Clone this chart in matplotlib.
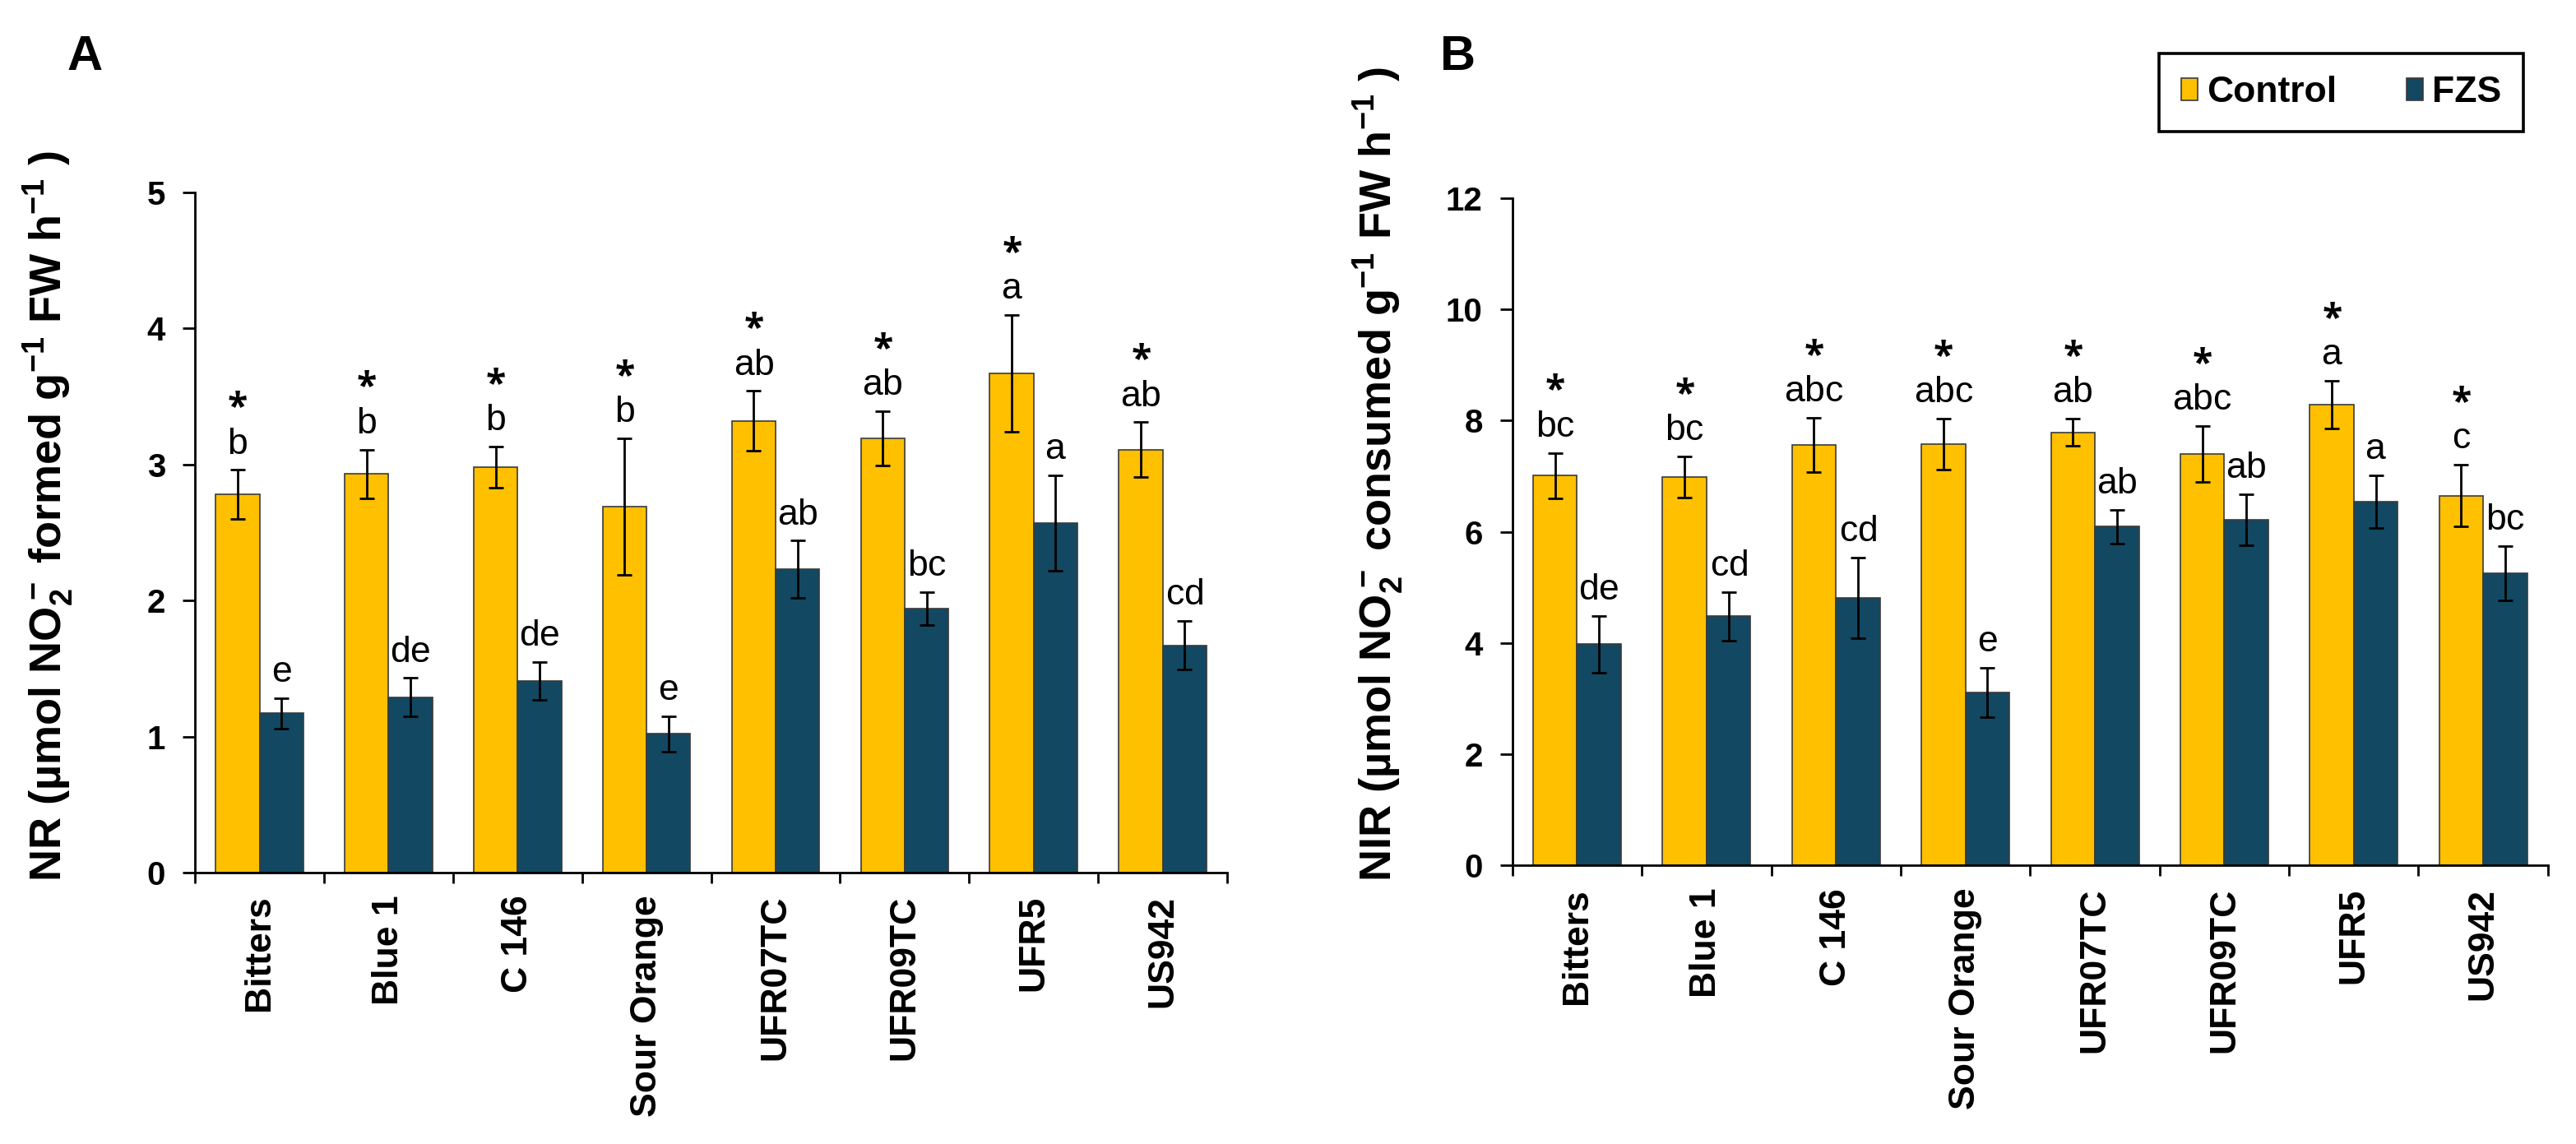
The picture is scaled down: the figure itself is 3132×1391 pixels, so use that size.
import numpy as np
import matplotlib
matplotlib.use('Agg')
import matplotlib.pyplot as plt
from matplotlib.patches import Patch

# 台木の名前
cultivars = ['Bitters', 'Blue 1', 'C 146', 'Sour Orange', 'UFR07TC', 'UFR09TC', 'UFR5', 'US942']

# A: NR
nr_ctrl = [2.78, 2.93, 2.98, 2.69, 3.32, 3.19, 3.67, 3.11]
nr_ctrl_err = [0.18, 0.18, 0.15, 0.50, 0.22, 0.20, 0.43, 0.20]
nr_fzs = [1.17, 1.29, 1.41, 1.02, 2.23, 1.94, 2.57, 1.67]
nr_fzs_err = [0.11, 0.14, 0.14, 0.13, 0.21, 0.12, 0.35, 0.18]
nr_ctrl_let = ['b', 'b', 'b', 'b', 'ab', 'ab', 'a', 'ab']
nr_fzs_let = ['e', 'de', 'de', 'e', 'ab', 'bc', 'a', 'cd']

# B: NIR
nir_ctrl = [7.01, 6.99, 7.56, 7.58, 7.79, 7.40, 8.29, 6.65]
nir_ctrl_err = [0.41, 0.37, 0.49, 0.46, 0.25, 0.50, 0.43, 0.56]
nir_fzs = [3.98, 4.48, 4.81, 3.11, 6.09, 6.21, 6.54, 5.25]
nir_fzs_err = [0.51, 0.44, 0.72, 0.44, 0.30, 0.46, 0.47, 0.49]
nir_ctrl_let = ['bc', 'bc', 'abc', 'abc', 'ab', 'abc', 'a', 'c']
nir_fzs_let = ['de', 'cd', 'cd', 'e', 'ab', 'ab', 'a', 'bc']

c_ctrl = '#FFC000'
c_fzs = '#134862'

plt.rcParams['font.family'] = ['Liberation Sans', 'DejaVu Sans']
plt.rcParams['mathtext.fontset'] = 'custom'
plt.rcParams['mathtext.rm'] = 'Liberation Sans:bold'
plt.rcParams['mathtext.it'] = 'Liberation Sans:bold'
plt.rcParams['mathtext.bf'] = 'Open Sans:bold'     # 星印用
plt.rcParams['mathtext.sf'] = 'Liberation Sans'    # 文字ラベル用（細字）

fig = plt.figure(figsize=(15.66, 6.955), dpi=200)


def draw_panel(rect, ctrl, ctrl_err, fzs, fzs_err, ctrl_let, fzs_let,
               ymax, ystep, ylabel, label_xy):
    ax = fig.add_axes(rect)
    x = np.arange(len(cultivars))
    w = 0.34
    ax.bar(x - w / 2, ctrl, w, color=c_ctrl, edgecolor='#3a3a3a', linewidth=0.6, zorder=2)
    ax.bar(x + w / 2, fzs, w, color=c_fzs, edgecolor='#3a3a3a', linewidth=0.6, zorder=2)
    ek = dict(fmt='none', ecolor='black', elinewidth=1.0, capsize=3.2, capthick=1.0, zorder=3)
    ax.errorbar(x - w / 2, ctrl, yerr=ctrl_err, **ek)
    ax.errorbar(x + w / 2, fzs, yerr=fzs_err, **ek)

    # 有意差の文字と星印（星印は文字と同じテキストの1行目）
    for i in range(len(cultivars)):
        top = ctrl[i] + ctrl_err[i]
        s = r'$\mathbf{*}$' + '\n' + r'$\mathsf{%s}$' % ctrl_let[i]
        ax.annotate(s, (x[i] - w / 2, top), xytext=(0, 3.9), textcoords='offset points',
                    ha='center', va='bottom', ma='center', fontsize=16, linespacing=1.1)
        top2 = fzs[i] + fzs_err[i]
        ax.annotate(r'$\mathsf{%s}$' % fzs_let[i], (x[i] + w / 2, top2), xytext=(0, 3.9),
                    textcoords='offset points', ha='center', va='bottom', fontsize=16)

    ax.set_xlim(-0.5, len(cultivars) - 0.5)
    ax.set_ylim(0, ymax)
    yt = np.arange(0, ymax + 0.01, ystep)
    ax.set_yticks(yt)
    ax.set_yticklabels([str(int(v)) for v in yt], fontsize=14.5, fontweight='bold')
    ax.set_xticks(np.arange(-0.5, len(cultivars)), minor=False)
    ax.set_xticklabels([])
    ax.set_xticks(x, minor=True)
    ax.set_xticklabels(cultivars, minor=True, rotation=90, fontsize=16, fontweight='bold', va='top')
    ax.tick_params(axis='x', which='major', direction='out', length=4.8, width=1.0)
    ax.tick_params(axis='x', which='minor', length=0, pad=10)
    ax.tick_params(axis='y', direction='out', length=5.5, width=1.0, pad=7.5)
    for s in ['top', 'right']:
        ax.spines[s].set_visible(False)
    for s in ['left', 'bottom']:
        ax.spines[s].set_linewidth(1.0)
    ax.set_ylabel(ylabel, fontsize=19.5, fontweight='bold')
    ax.yaxis.set_label_coords(*label_xy)
    return ax


draw_panel([0.0757, 0.2373, 0.4007, 0.5945], nr_ctrl, nr_ctrl_err, nr_fzs, nr_fzs_err,
           nr_ctrl_let, nr_fzs_let, 5, 1,
           r'NR (µmol NO$_2^-$ formed g$^{-1}$ FW h$^{-1}$ )', (-0.116, 0.524))
draw_panel([0.5871, 0.2437, 0.4020, 0.5830], nir_ctrl, nir_ctrl_err, nir_fzs, nir_fzs_err,
           nir_ctrl_let, nir_fzs_let, 12, 2,
           r'NIR (µmol NO$_2^-$ consumed g$^{-1}$ FW h$^{-1}$ )', (-0.103, 0.587))

fig.text(0.0329, 0.9497, 'A', fontsize=21.5, fontweight='bold', ha='center', va='center')
fig.text(0.5658, 0.9497, 'B', fontsize=21.5, fontweight='bold', ha='center', va='center')

handles = [Patch(facecolor=c_ctrl, edgecolor='#3a3a3a', linewidth=0.6, label='Control'),
           Patch(facecolor=c_fzs, edgecolor='#3a3a3a', linewidth=0.6, label='FZS')]
leg = fig.legend(handles=handles, loc='upper right', bbox_to_anchor=(0.9795, 0.953), ncol=2,
                 fancybox=False, edgecolor='black', framealpha=1,
                 prop={'weight': 'bold', 'size': 16}, handlelength=0.45, handleheight=0.55,
                 handletextpad=0.25, columnspacing=1.9, borderpad=0.6, borderaxespad=0)
leg.get_frame().set_linewidth(1.3)

fig.savefig('out.png', dpi=200)
